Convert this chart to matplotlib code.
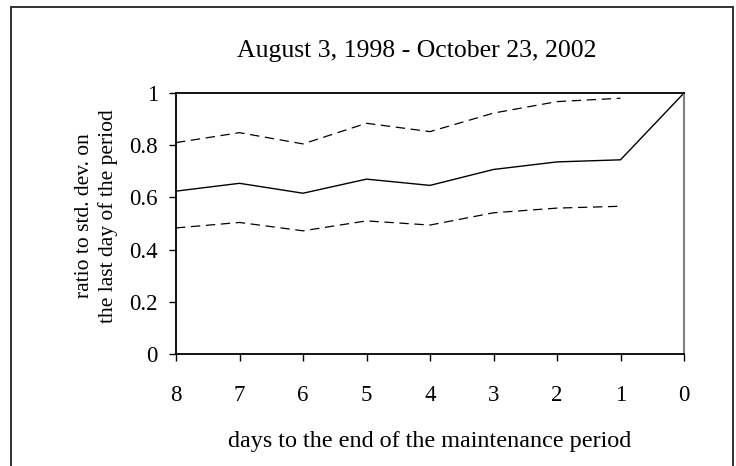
import matplotlib
matplotlib.use("Agg")
import matplotlib.pyplot as plt
from matplotlib.patches import Rectangle

# days to end of maintenance period
days = [8, 7, 6, 5, 4, 3, 2, 1, 0]
ratio_mean = [0.624, 0.654, 0.616, 0.670, 0.646, 0.707, 0.736, 0.744, 1.0]
# bands only go to day 1
band_days = [8, 7, 6, 5, 4, 3, 2, 1]
ratio_upper = [0.810, 0.848, 0.805, 0.884, 0.852, 0.923, 0.967, 0.980]
ratio_lower = [0.483, 0.504, 0.472, 0.510, 0.494, 0.541, 0.559, 0.566]

y_ticks = [0, 0.2, 0.4, 0.6, 0.8, 1]
y_tick_labels = ["0", "0.2", "0.4", "0.6", "0.8", "1"]

plt.rcParams['font.family'] = ['Liberation Serif', 'DejaVu Serif']

W, H = 736, 466
fig = plt.figure(figsize=(W / 100, H / 100), dpi=100)
ax = fig.add_axes([176 / W, 1 - 354 / H, (684 - 176) / W, (354 - 93) / H])

ax.plot(days, ratio_mean, color="black", lw=1.0)
ax.plot(band_days, ratio_upper, color="black", lw=0.9, linestyle=(0, (7.5, 4.5)))
ax.plot(band_days, ratio_lower, color="black", lw=0.9, linestyle=(0, (7.5, 4.5)))

ax.set_xlim(8, 0)
ax.set_ylim(0, 1)
ax.set_xticks(days)
ax.set_xticklabels([str(d) for d in days])
ax.set_yticks(y_ticks)
ax.set_yticklabels(y_tick_labels)

for s in ["left", "bottom", "top"]:
    ax.spines[s].set_color("black")
    ax.spines[s].set_linewidth(1.3)
ax.spines["right"].set_color("#808080")
ax.spines["right"].set_linewidth(1.5)

ax.tick_params(axis="x", direction="out", length=5, width=1.0, pad=17, labelsize=16.5)
ax.tick_params(axis="y", direction="out", length=5, width=1.0, pad=8, labelsize=16.5)
ax.xaxis.get_major_ticks()[-1].tick1line.set_color("#808080")

ax.set_title("August 3, 1998 - October 23, 2002", fontsize=18.5, pad=26, x=0.473)
ax.set_xlabel("days to the end of the maintenance period", fontsize=17.4, labelpad=18)
ax.set_ylabel("ratio to std. dev. on\nthe last day of the period", fontsize=15.5,
              linespacing=1.3)
ax.yaxis.set_label_coords(-0.114, 0.53)

# outer chart frame
fig.patches.append(Rectangle((11 / W, -0.05), (733 - 11) / W, 1.05 - 7 / H,
                             transform=fig.transFigure, fill=False,
                             edgecolor="#222222", lw=1.3))

fig.savefig("out.png", dpi=100)
